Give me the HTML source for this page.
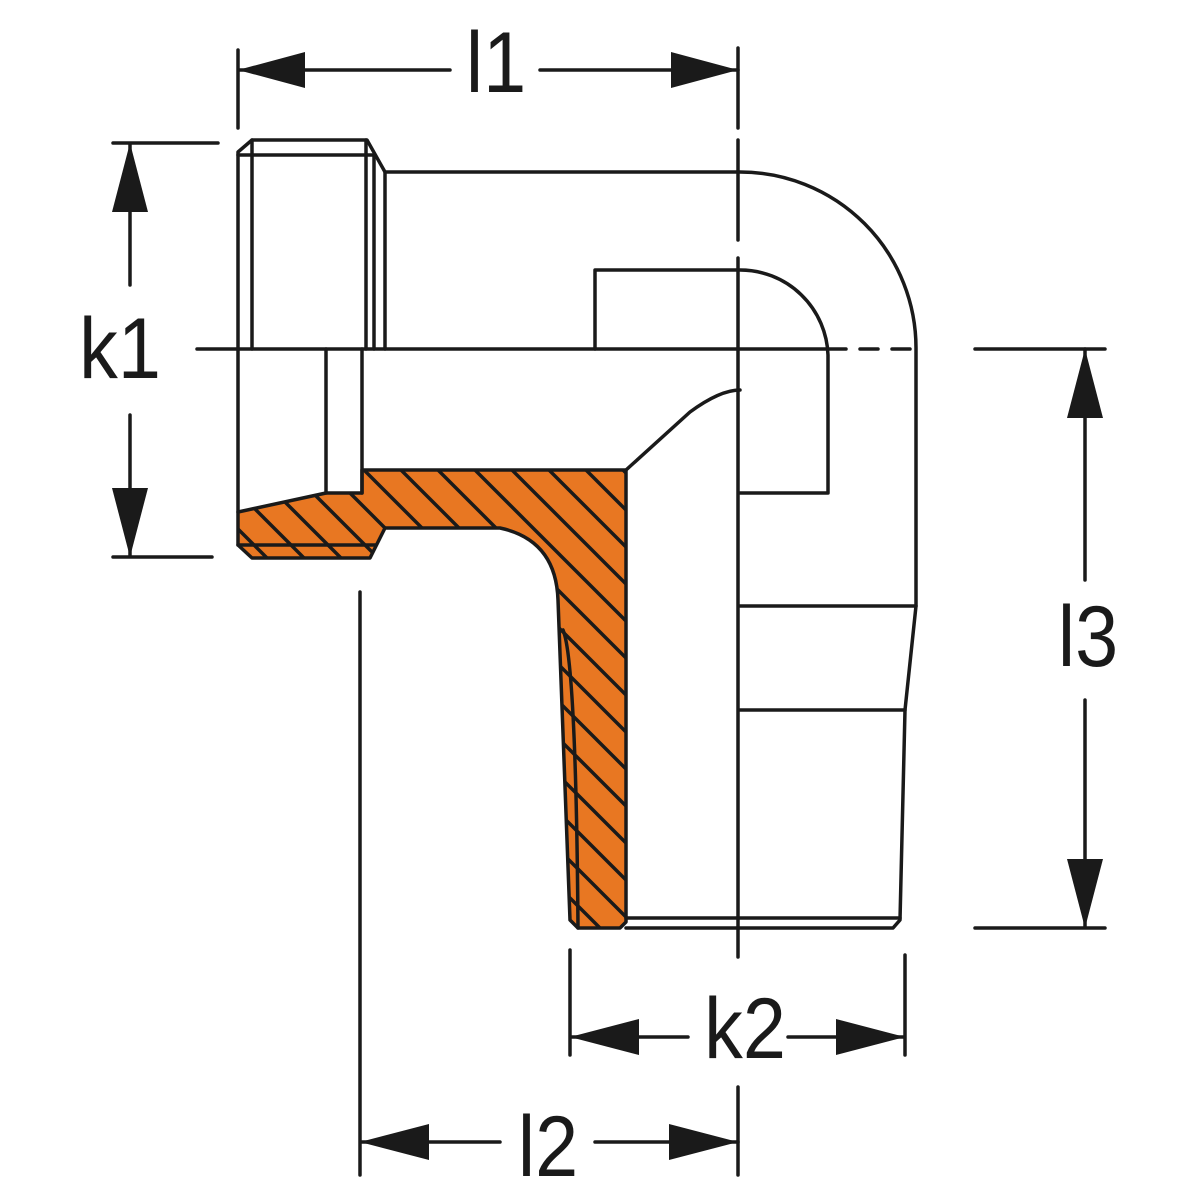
<!DOCTYPE html>
<html><head><meta charset="utf-8"><style>html,body{margin:0;padding:0;background:#fff}svg{display:block}</style></head><body>
<svg width="1200" height="1200" viewBox="0 0 1200 1200" xmlns="http://www.w3.org/2000/svg">
<defs>
<pattern id="h" patternUnits="userSpaceOnUse" width="37" height="37" patternTransform="translate(5,0)">
<rect width="37" height="37" fill="#e87722"/>
<path d="M-5,-5 L42,42 M-42,-5 L5,42 M32,-5 L79,42" stroke="#1a1a1a" stroke-width="3.5"/>
</pattern>
</defs>
<g fill="none" stroke="#1a1a1a" stroke-width="3.5" stroke-linejoin="round" stroke-linecap="round">
<!-- orange section -->
<path d="M238,512 L326,493 L362,493 L362,470 L626,470 L626,922 L620,928 L578,928 L570,920 L558,600 Q556,540 500,528 L385,528 L370,558 L252,558 L238,545 Z" fill="url(#h)"/>
<path d="M238,545 L375,545"/>
<path d="M563,630 Q576,660 578,928"/>
<!-- top nut -->
<path d="M238,349 L238,152 L252,140 L367,140 L385,172 L385,349"/>
<path d="M252,140 L252,349 M238,155 L373,155 M366,140 L366,349 M374,155 L374,349"/>
<!-- body top & outer bend -->
<path d="M385,172 L740,172 A176,176 0 0 1 916,348 L916,606 L905,710 L900,920 L893,928 L626,928"/>
<path d="M626,918 L900,918 M740,606 L916,606 M740,710 L905,710"/>
<!-- inner bend -->
<path d="M595,349 L595,270 L740,270 A88,88 0 0 1 828,355 L828,493 L740,493"/>
<!-- lower left nut area -->
<path d="M238,349 L238,512 M326,349 L326,493 M362,349 L362,493"/>
<path d="M626,470 L690,412 Q720,390 740,390"/>
<!-- centerline horizontal -->
<path d="M197,349 L828,349 M975,349 L1105,349"/>
<path d="M828,349 L916,349" stroke-dasharray="18,14"/>
<!-- centerline vertical -->
<path d="M738,48 L738,128 M738,140 L738,240 M738,258 L738,957 M738,1087 L738,1175"/>
<!-- dimension lines -->
<path d="M238,50 L238,128 M238,70 L450,70 M540,70 L738,70"/>
<path d="M113,143 L218,143 M113,557 L212,557 M130,143 L130,285 M130,415 L130,557"/>
<path d="M975,928 L1105,928 M1085,349 L1085,580 M1085,700 L1085,928"/>
<path d="M570,950 L570,1055 M905,955 L905,1055 M570,1037 L688,1037 M788,1037 L905,1037"/>
<path d="M360,592 L360,1175 M360,1142 L500,1142 M595,1142 L738,1142"/>
</g>
<g fill="#1a1a1a">
<polygon points="238,70 305,52 305,88"/><polygon points="738,70 671,52 671,88"/>
<polygon points="130,143 112,212 148,212"/><polygon points="130,557 112,488 148,488"/>
<polygon points="1085,349 1067,418 1103,418"/><polygon points="1085,928 1067,859 1103,859"/>
<polygon points="570,1037 639,1019 639,1055"/><polygon points="905,1037 836,1019 836,1055"/>
<polygon points="360,1142 429,1124 429,1160"/><polygon points="738,1142 669,1124 669,1160"/>
</g>
<g font-family="Liberation Sans, sans-serif" font-size="86" fill="#1a1a1a" text-anchor="middle">
<text x="496" y="92" transform="translate(496,0) scale(0.9,1) translate(-496,0)">l1</text>
<text x="120" y="378" transform="translate(120,0) scale(0.9,1) translate(-120,0)">k1</text>
<text x="1088" y="666" transform="translate(1088,0) scale(0.9,1) translate(-1088,0)">l3</text>
<text x="745" y="1058" transform="translate(745,0) scale(0.9,1) translate(-745,0)">k2</text>
<text x="548" y="1176" transform="translate(548,0) scale(0.9,1) translate(-548,0)">l2</text>
</g>
</svg>
</body></html>
